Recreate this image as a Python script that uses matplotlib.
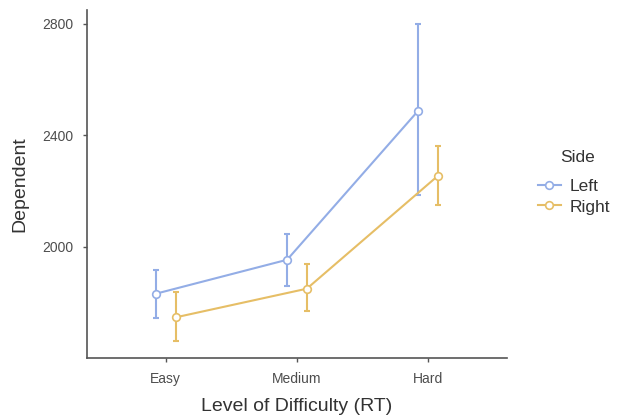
import matplotlib
matplotlib.use("Agg")
import matplotlib.pyplot as plt
from matplotlib.lines import Line2D
import numpy as np

categories = ["Easy", "Medium", "Hard"]
sides = ["Left", "Right"]
left_mean = [1831, 1953, 2489]
left_low = [1742, 1860, 2187]
left_high = [1915, 2047, 2800]
right_mean = [1746, 1849, 2255]
right_low = [1660, 1768, 2151]
right_high = [1836, 1939, 2362]
yticks = [2000, 2400, 2800]

colors = {"Left": "#93ade6", "Right": "#e6be66"}
plt.rcParams['font.family'] = ['Liberation Sans', 'DejaVu Sans']

fig = plt.figure(figsize=(6.19, 4.18), dpi=100)
ax = fig.add_axes([0.1405, 0.1435, 0.819 - 0.1405, 0.976 - 0.1435])

x = np.arange(len(categories))
dodge = 0.075
data = {
    "Left": (left_mean, left_low, left_high, -dodge),
    "Right": (right_mean, right_low, right_high, dodge),
}
for s in sides:
    m, lo, hi, off = data[s]
    m = np.array(m); lo = np.array(lo); hi = np.array(hi)
    xs = x + off
    ax.errorbar(xs, m, yerr=[m - lo, hi - m], fmt='none', ecolor=colors[s],
                elinewidth=1.5, capsize=2.5, capthick=1.5, zorder=2)
    ax.plot(xs, m, '-', color=colors[s], lw=1.5, zorder=3)
    ax.plot(xs, m, 'o', mfc='white', mec=colors[s], mew=1.2, ms=5.5, zorder=4)

ax.set_xlim(-0.6, 2.6)
ax.set_ylim(1600, 2850)
ax.set_xticks(x)
ax.set_xticklabels(categories)
ax.set_yticks(yticks)
for sp in ["top", "right"]:
    ax.spines[sp].set_visible(False)
for sp in ["left", "bottom"]:
    ax.spines[sp].set_color("#555555")
    ax.spines[sp].set_linewidth(1.2)
ax.tick_params(colors="#555555", labelcolor="#4d4d4d", labelsize=10, length=3, width=1, pad=7)
ax.set_xlabel("Level of Difficulty (RT)", fontsize=14, color="#333333", labelpad=9)
ax.set_ylabel("Dependent", fontsize=14, color="#333333", labelpad=10)

handles = [Line2D([0], [0], color=colors[s], lw=1.5, marker='o', mfc='white',
                  mec=colors[s], mew=1.2, ms=5.5) for s in sides]
leg = fig.legend(handles, sides, loc="upper left", bbox_to_anchor=(538 / 619, 1 - 179 / 418),
                 frameon=False, fontsize=12.5,
                 handlelength=1.3, handletextpad=0.5, labelspacing=0.3,
                 borderpad=0, borderaxespad=0)
for t in leg.get_texts():
    t.set_color("#333333")
fig.text(578 / 619, 1 - 157 / 418, "Side", ha="center", va="center",
         fontsize=12.5, color="#333333")

fig.savefig("out.png", dpi=100)
